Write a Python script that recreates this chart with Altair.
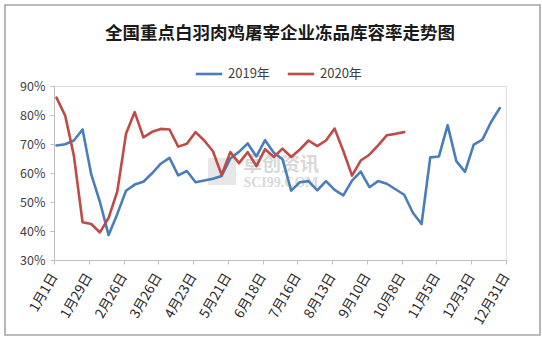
import json
import altair as alt
import pandas as pd

title_text = "全国重点白羽肉鸡屠宰企业冻品库容率走势图"
series_names = ["2019年", "2020年"]
series_colors = ["#4A7EBB", "#BE4B48"]

tick_days = [0, 28, 56, 84, 112, 140, 168, 196, 224, 252, 280, 308, 336, 364]
tick_labels = ["1月1日", "1月29日", "2月26日", "3月26日", "4月23日", "5月21日", "6月18日",
               "7月16日", "8月13日", "9月10日", "10月8日", "11月5日", "12月3日", "12月31日"]

# weekly stock-capacity ratio (%)
v2019 = [69.5, 69.9, 71.2, 75.0, 59.5, 50.0, 38.6, 45.9, 53.9, 56.0,
         57.0, 59.9, 63.2, 65.2, 59.2, 60.7, 56.8, 57.4, 58.0, 59.0,
         65.0, 67.3, 70.2, 65.7, 71.3, 67.0, 64.8, 53.9, 56.8, 57.2,
         54.0, 57.2, 54.2, 52.3, 57.4, 60.5, 55.1, 57.2, 56.3, 54.4,
         52.5, 46.3, 42.4, 65.4, 65.7, 76.5, 64.1, 60.4, 69.8, 71.5,
         77.6, 82.4]
v2020 = [86.0, 79.8, 66.0, 43.0, 42.4, 39.5, 44.5, 53.7, 73.5, 81.0,
         72.3, 74.2, 75.2, 75.0, 69.1, 70.1, 74.1, 71.2, 67.5, 59.3,
         67.2, 63.4, 67.2, 62.4, 68.2, 65.5, 68.4, 65.5, 68.1, 71.2,
         69.3, 71.2, 75.3, 67.6, 59.1, 64.3, 66.3, 69.5, 73.0, 73.5,
         74.1]

week_day = [2 + 7 * i for i in range(max(len(v2019), len(v2020)))]

rows = []
for name, vals in zip(series_names, [v2019, v2020]):
    for d, v in zip(week_day, vals):
        rows.append({"day": d, "value": v, "series": name})
df = pd.DataFrame(rows)

label_expr = json.dumps(tick_labels, ensure_ascii=False) + "[round(datum.value/28)]"

FONT = "Noto Sans CJK SC"

lines = alt.Chart(df).mark_line(strokeWidth=2.6, strokeCap="round", strokeJoin="round").encode(
    x=alt.X("day:Q", scale=alt.Scale(domain=[0, 364], nice=False, zero=False),
            axis=alt.Axis(values=tick_days, labelExpr=label_expr, title=None, grid=False,
                          labelAngle=300, labelAlign="right", labelBaseline="middle",
                          labelPadding=10, tickSize=4, labelFontSize=13.5, labelFont=FONT,
                          labelColor="#262626", domainColor="#BFBFBF", tickColor="#BFBFBF",
                          labelOverlap=False, labelFlush=False)),
    y=alt.Y("value:Q", scale=alt.Scale(domain=[30, 90], nice=False, zero=False),
            axis=alt.Axis(values=[30, 40, 50, 60, 70, 80, 90], labelExpr="datum.value + '%'",
                          title=None, grid=False, tickSize=4, labelPadding=5,
                          labelFontSize=12.5, labelFont=FONT, labelColor="#404040",
                          domainColor="#BFBFBF", tickColor="#BFBFBF")),
    color=alt.Color("series:N", scale=alt.Scale(domain=series_names, range=series_colors),
                    legend=alt.Legend(title=None, orient="none", legendX=140, legendY=-27,
                                      direction="horizontal", symbolType="stroke",
                                      symbolSize=700, symbolStrokeWidth=2.6,
                                      labelFontSize=13, labelFont=FONT, labelColor="#404040",
                                      labelOffset=4, columnPadding=12)),
    order=alt.Order("series:N"),
)

one = pd.DataFrame({"k": [0]})

frame = alt.Chart(one).mark_rect(fill=None, stroke="#A6A6A6", strokeWidth=1.6).encode(
    x=alt.value(-49), x2=alt.value(486), y=alt.value(-81), y2=alt.value(249)
)

logo = alt.Chart(one).mark_rect(fill="#C4C4C4", opacity=0.4).encode(
    x=alt.value(154), x2=alt.value(182), y=alt.value(72), y2=alt.value(99)
)
wm1 = alt.Chart(one).mark_text(text="卓创资讯", font=FONT, fontSize=19, fontWeight="bold",
                               color="#CCCCCC", opacity=0.75).encode(
    x=alt.value(227), y=alt.value(79)
)
wm2 = alt.Chart(one).mark_text(text="SCI99.COM", font="Liberation Serif", fontSize=14,
                               fontWeight="bold", color="#CCCCCC", opacity=0.75).encode(
    x=alt.value(227), y=alt.value(97)
)

chart = alt.layer(logo, wm1, wm2, lines, frame).properties(
    width=452, height=174,
    title=alt.TitleParams(title_text, font=FONT, fontSize=17.5, fontWeight="bold",
                          color="#1A1A1A", anchor="middle", offset=8, dy=46),
    autosize=alt.AutoSizeParams(type="none"),
    padding={"left": 54, "top": 86, "right": 36, "bottom": 79},
).configure_view(stroke=None).configure(background="white")

chart.save("out.html", embed_options={"renderer": "svg", "actions": False})
